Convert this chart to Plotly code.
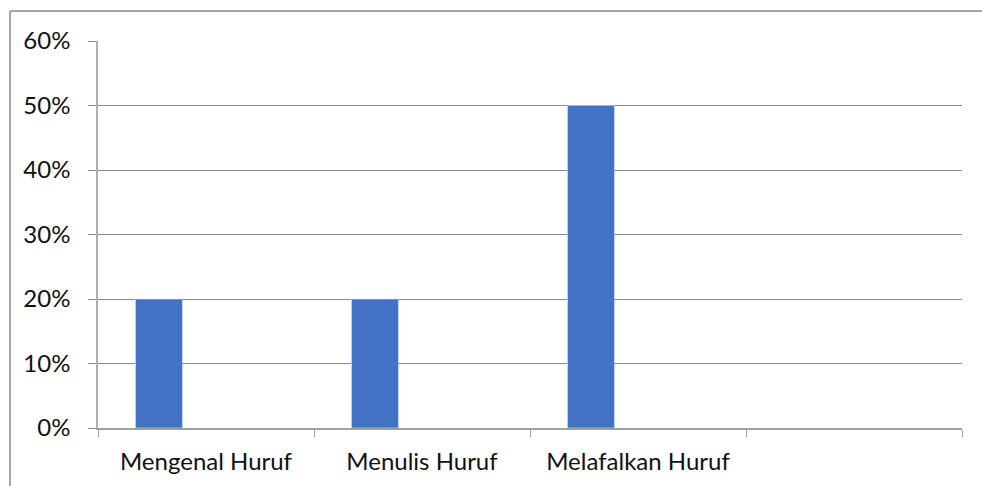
import plotly.graph_objects as go

categories = ["Mengenal Huruf", "Menulis Huruf", "Melafalkan Huruf", " "]
series1 = [0.20, 0.20, 0.50, None]
series2 = [None, None, None, None]
series3 = [None, None, None, None]

fig = go.Figure()
fig.add_trace(go.Bar(x=categories, y=series1, marker_color="#4472C4", name="S1"))
fig.add_trace(go.Bar(x=categories, y=series2, marker_color="#ED7D31", name="S2"))
fig.add_trace(go.Bar(x=categories, y=series3, marker_color="#A5A5A5", name="S3"))

W, H = 982, 486
L, R, T, B = 98, 20, 41, 58
pw, ph = W - L - R, H - T - B

def px_x(p):
    return (p - L) / pw

def px_y(p):
    return (H - B - p) / ph

fig.add_shape(type="line", xref="paper", yref="paper",
              x0=px_x(10), x1=px_x(10), y0=px_y(11), y1=px_y(520),
              line=dict(color="#8a8a8a", width=1.5))
fig.add_shape(type="line", xref="paper", yref="paper",
              x0=px_x(10), x1=px_x(1000), y0=px_y(11), y1=px_y(11),
              line=dict(color="#8a8a8a", width=1.5))

fig.update_layout(
    width=W, height=H,
    margin=dict(l=L, r=R, t=T, b=B),
    barmode="group", bargap=0.347, bargroupgap=0,
    showlegend=False,
    plot_bgcolor="white", paper_bgcolor="white",
    font=dict(family="Lato, Open Sans, sans-serif", size=24, color="#111111"),
    xaxis=dict(
        type="category", tickson="boundaries", ticks="outside", ticklen=7,
        tickcolor="#a0a0a0", showline=True, linecolor="#a0a0a0", linewidth=1.5,
        showgrid=False, ticklabelstandoff=11,
    ),
    yaxis=dict(
        range=[0, 0.6], dtick=0.1, tickformat=".0%", ticks="outside", ticklen=8,
        tickcolor="#8a8a8a", showline=True, linecolor="#b0b0b0", linewidth=1.5,
        showgrid=True, gridcolor="#8a8a8a", gridwidth=1, zeroline=False,
        ticklabelstandoff=13,
    ),
)

fig.write_html("out.html")
